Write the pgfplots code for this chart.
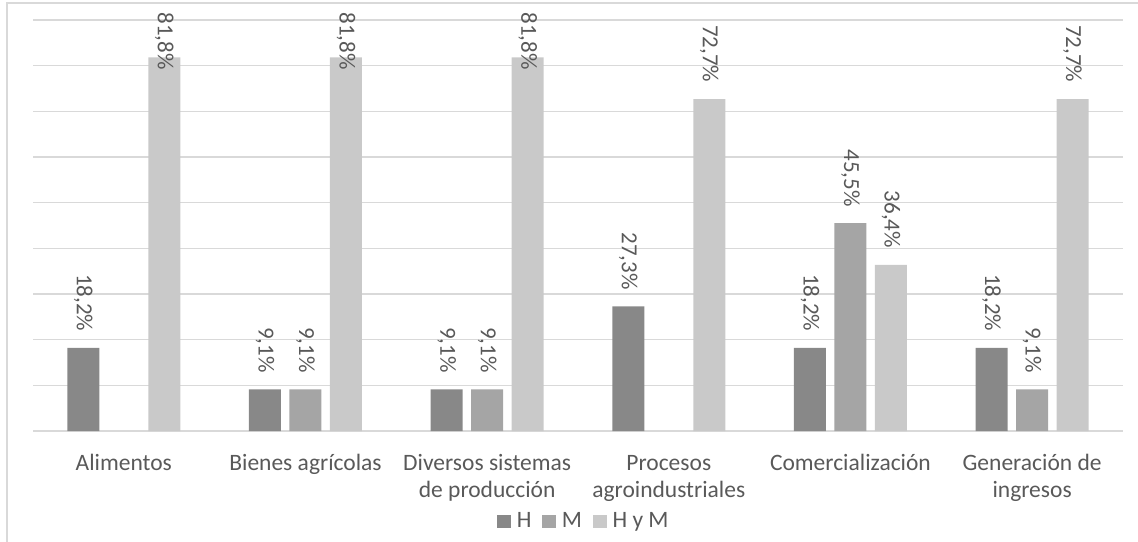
\documentclass[border=0pt]{standalone}
\usepackage{pgfplots}
\pgfplotsset{compat=1.18}
\usepackage{pgfplotstable}
\usepackage{fontspec}
\setmainfont{Carlito}
\definecolor{cH}{HTML}{888888}
\definecolor{cM}{HTML}{A5A5A5}
\definecolor{cHM}{HTML}{C9C9C9}
\definecolor{gridc}{HTML}{D9D9D9}
\definecolor{txt}{HTML}{595959}

\pgfplotstableread{
x y
0 18.2
1 9.1
2 9.1
3 27.3
4 18.2
5 18.2
}\tH
\pgfplotstableread{
x y
1 9.1
2 9.1
4 45.5
5 9.1
}\tM
\pgfplotstableread{
x y
0 81.8
1 81.8
2 81.8
3 72.7
4 36.4
5 72.7
}\tHM

\begin{document}
\begin{tikzpicture}
\useasboundingbox (0,0) rectangle (1138pt,541pt);
\draw[gridc, line width=1.3pt] (7pt,-10pt) -- (7pt,538pt) -- (1150pt,538pt);
\begin{axis}[
  at={(33pt,110pt)}, anchor=south west,
  scale only axis, width=1090pt, height=411pt,
  ybar=8.5pt, bar width=32pt,
  xmin=-0.5, xmax=5.5, ymin=0, ymax=90,
  ytick={0,10,...,90}, yticklabels={},
  ymajorgrids, grid style={gridc, line width=1.5pt},
  axis line style={draw=none},
  major tick length=0pt,
  xtick={0,...,5},
  xticklabels={{\strut Alimentos},{\strut Bienes agrícolas},{\strut Diversos sistemas\\de producción},{\strut Procesos\\agroindustriales},{\strut Comercialización},{\strut Generación de\\ingresos}},
  xticklabel style={anchor=north, inner sep=0pt, yshift=-20pt, align=center, font=\fontsize{23.5}{27.5}\selectfont, text=txt},
  nodes near coords={\pgfmathprintnumber[fixed,fixed zerofill,precision=1,use comma,assume math mode=true]{\pgfplotspointmeta}\%},
  visualization depends on={rawy \as \yv},
  every node near coord/.append style={text=txt, font=\fontsize{23}{27}\selectfont, inner sep=0pt, yshift={min(16.5,361-4.5667*\yv)}, rotate=-90, anchor=east},
  legend style={at={(0.5055,-0.219)}, anchor=center, draw=none, fill=none, legend columns=-1, font=\fontsize{23.5}{27.5}\selectfont, text=txt,
    /tikz/every odd column/.append style={column sep=4pt},
    /tikz/every even column/.append style={column sep=9pt}},
]
\addplot[fill=cH, draw=none,
  legend image code/.code={\fill[cH] (0pt,-7pt) rectangle (13.5pt,6.5pt);}] table {\tH};
\addlegendentry{H}
\addplot[fill=cM, draw=none,
  legend image code/.code={\fill[cM] (0pt,-7pt) rectangle (13.5pt,6.5pt);}] table {\tM};
\addlegendentry{M}
\addplot[fill=cHM, draw=none,
  legend image code/.code={\fill[cHM] (0pt,-7pt) rectangle (13.5pt,6.5pt);}] table {\tHM};
\addlegendentry{H y M}
\end{axis}
\end{tikzpicture}
\end{document}
